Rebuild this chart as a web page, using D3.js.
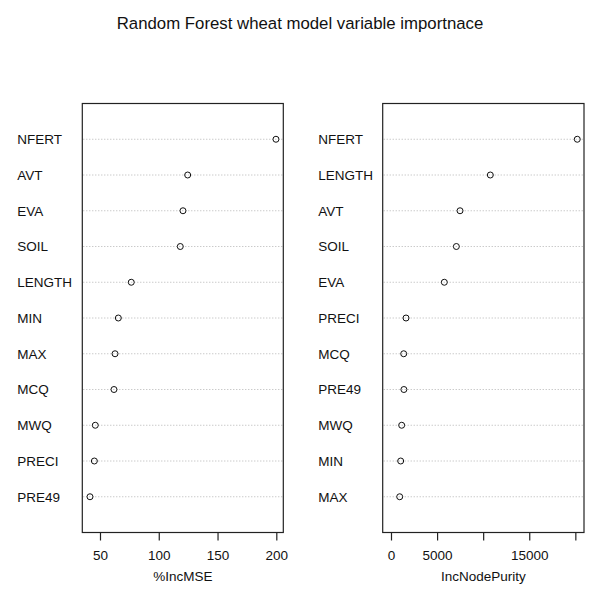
<!DOCTYPE html>
<html>
<head>
<meta charset="utf-8">
<script src="https://cdn.jsdelivr.net/npm/d3@7"></script>
<style>
  html, body { margin: 0; padding: 0; background: #fff; }
  svg { display: block; font-family: "Liberation Sans", Arial, sans-serif; }
</style>
</head>
<body>
<svg id="chart" width="602" height="601"></svg>
<script>
// ---- data (top to bottom) ----
const titleText = "Random Forest wheat model variable importnace";

const mseCategories = ["NFERT", "AVT", "EVA", "SOIL", "LENGTH", "MIN", "MAX", "MCQ", "MWQ", "PRECI", "PRE49"];
const mseValues     = [199.7, 124.6, 120.6, 118.3, 76.6, 65.6, 62.8, 61.9, 46.0, 45.2, 41.5];
const mseTicks      = [50, 100, 150, 200];
const mseTickLabels = ["50", "100", "150", "200"];
const mseTitle      = "%IncMSE";

const purCategories = ["NFERT", "LENGTH", "AVT", "SOIL", "EVA", "PRECI", "MCQ", "PRE49", "MWQ", "MIN", "MAX"];
const purValues     = [20210, 10775, 7490, 7090, 5785, 1630, 1380, 1400, 1160, 1050, 945];
const purTicks      = [0, 5000, 10000, 15000, 20000];
const purTickLabels = ["0", "5000", "", "15000", ""];
const purTitle      = "IncNodePurity";

// ---- layout ----
const svg = d3.select("#chart");
const boxTop = 103.5, boxBottom = 532.5;
const fontSize = 13.5;

svg.append("text")
  .attr("x", 300).attr("y", 29)
  .attr("text-anchor", "middle")
  .attr("font-size", 16.8)
  .attr("fill", "#111")
  .text(titleText);

function panel(cfg) {
  const g = svg.append("g");
  const x = d3.scaleLinear().domain(cfg.domain).range([cfg.left, cfg.right]);
  const y = d3.scalePoint().domain(cfg.categories).range([boxTop, boxBottom]).padding(1);

  // dotted guide lines
  g.selectAll("line.guide").data(cfg.categories).join("line")
    .attr("class", "guide")
    .attr("x1", cfg.left + 1).attr("x2", cfg.right - 1)
    .attr("y1", d => y(d)).attr("y2", d => y(d))
    .attr("stroke", "#b4b4b4")
    .attr("stroke-width", 1)
    .attr("stroke-dasharray", "1,2");

  // category labels
  g.selectAll("text.lab").data(cfg.categories).join("text")
    .attr("class", "lab")
    .attr("x", cfg.labelX)
    .attr("y", d => y(d) + 4.8)
    .attr("font-size", fontSize)
    .attr("fill", "#111")
    .text(d => d);

  // points
  g.selectAll("circle").data(cfg.values).join("circle")
    .attr("cx", d => x(d))
    .attr("cy", (d, i) => y(cfg.categories[i]))
    .attr("r", 3)
    .attr("fill", "none")
    .attr("stroke", "#111")
    .attr("stroke-width", 1);

  // box
  g.append("rect")
    .attr("x", cfg.left).attr("y", boxTop)
    .attr("width", cfg.right - cfg.left).attr("height", boxBottom - boxTop)
    .attr("fill", "none").attr("stroke", "#222").attr("stroke-width", 1.2);

  // axis
  const axis = d3.axisBottom(x)
    .tickValues(cfg.ticks)
    .tickFormat((d, i) => cfg.tickLabels[i])
    .tickSize(8)
    .tickSizeOuter(0)
    .tickPadding(10);
  const ag = g.append("g").attr("transform", `translate(0,${boxBottom})`).call(axis);
  ag.select(".domain").remove();
  ag.selectAll(".tick line").attr("stroke", "#222").attr("stroke-width", 1.2);
  ag.selectAll(".tick text")
    .attr("font-size", fontSize)
    .attr("font-family", "Liberation Sans, Arial, sans-serif")
    .attr("fill", "#111");

  g.append("text")
    .attr("x", (cfg.left + cfg.right) / 2)
    .attr("y", 580.5)
    .attr("text-anchor", "middle")
    .attr("font-size", fontSize)
    .attr("fill", "#111")
    .text(cfg.title);
}

panel({
  categories: mseCategories, values: mseValues, ticks: mseTicks, tickLabels: mseTickLabels,
  title: mseTitle, domain: [34.95, 205.95], left: 82.3, right: 283.3, labelX: 17.3
});
panel({
  categories: purCategories, values: purValues, ticks: purTicks, tickLabels: purTickLabels,
  title: purTitle, domain: [-900, 20940], left: 382.7, right: 584, labelX: 318.3
});
</script>
</body>
</html>
